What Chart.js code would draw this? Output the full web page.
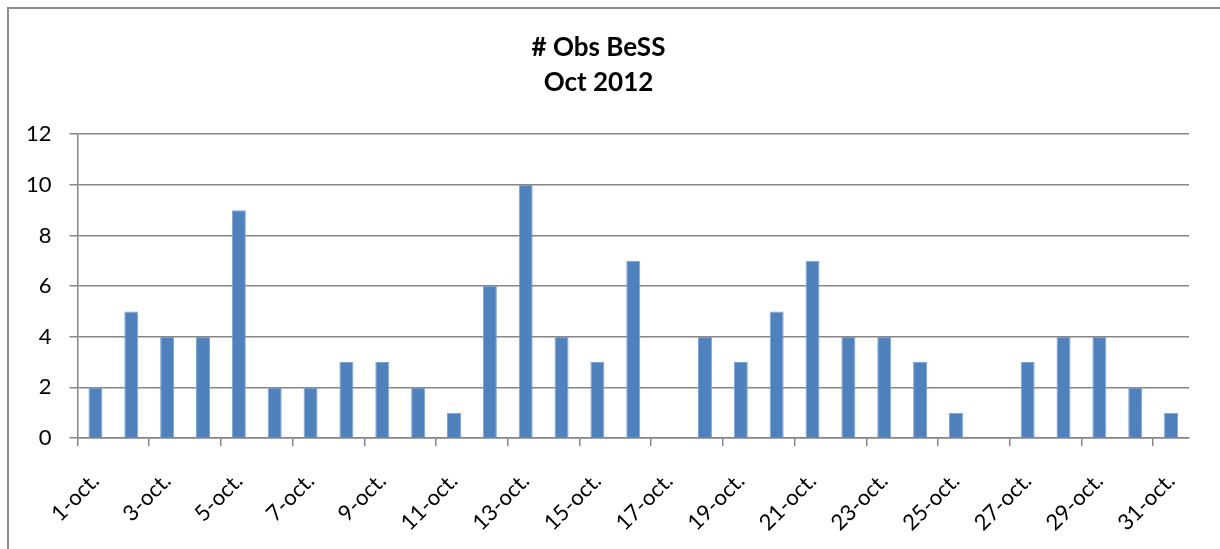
<!DOCTYPE html>
<html>
<head>
<meta charset="utf-8">
<script src="https://cdn.jsdelivr.net/npm/chart.js@4.4.0/dist/chart.umd.min.js"></script>
<style>
    html, body { margin: 0; padding: 0; background: #fff; overflow: hidden; }
    #frame {
        position: absolute; left: 7px; top: 7px; width: 1240px; height: 600px;
        border: 2px solid #8c8c8c; box-sizing: border-box;
    }
    #wrap { position: absolute; left: 0; top: 0; width: 1220px; height: 549px; }
</style>
</head>
<body>
<div id="frame"></div>
<div id="wrap"><canvas id="obsChart"></canvas></div>
<script>
const days = [];
for (let d = 1; d <= 31; d++) days.push(d + '-oct.');
const observations = [2, 5, 4, 4, 9, 2, 2, 3, 3, 2, 1, 6, 10, 4, 3, 7, 0, 4, 3, 5, 7, 4, 4, 3, 1, 0, 3, 4, 4, 2, 1];
const titleLines = ['# Obs BeSS', 'Oct 2012'];
const yTicks = [0, 2, 4, 6, 8, 10, 12];

document.addEventListener('DOMContentLoaded', () => {
    const ctx = document.getElementById('obsChart');
    Chart.defaults.font.family = 'Lato, "Open Sans", sans-serif';
    Chart.defaults.color = '#000';

    new Chart(ctx, {
        type: 'bar',
        data: {
            labels: days,
            datasets: [{
                data: observations,
                backgroundColor: '#4f81bd',
                borderColor: '#7ea3d3',
                borderWidth: 1,
                barPercentage: 0.39,
                categoryPercentage: 1
            }]
        },
        options: {
            responsive: true,
            maintainAspectRatio: false,
            animation: false,
            layout: { padding: { left: 8, right: 31, top: 0, bottom: -9 } },
            plugins: {
                legend: { display: false },
                tooltip: { enabled: false },
                title: {
                    display: true,
                    text: titleLines,
                    color: '#000',
                    font: { size: 26, weight: 'bold', lineHeight: 1.35 },
                    padding: { top: 30, bottom: 34 }
                }
            },
            scales: {
                y: {
                    min: yTicks[0],
                    max: yTicks[yTicks.length - 1],
                    afterBuildTicks: (axis) => { axis.ticks = yTicks.map(v => ({ value: v })); },
                    ticks: { color: '#000', font: { size: 22 }, padding: 18 },
                    grid: { color: '#868686', lineWidth: 1.5, tickLength: 8 },
                    border: { color: '#868686', width: 1.5 }
                },
                x: {
                    afterFit: (scale) => { scale.paddingLeft = 0; },
                    ticks: {
                        autoSkip: false,
                        minRotation: 45,
                        maxRotation: 45,
                        color: '#000',
                        font: { size: 22 },
                        padding: 22,
                        callback: function(value, index) {
                            return index % 2 === 0 ? this.getLabelForValue(value) : '';
                        }
                    },
                    grid: {
                        drawOnChartArea: false,
                        tickLength: 8,
                        lineWidth: 1.5,
                        color: (c) => (c.index % 2 === 0 ? '#868686' : 'rgba(0,0,0,0)')
                    },
                    border: { color: '#868686', width: 1.5 }
                }
            }
        }
    });
});
</script>
</body>
</html>
